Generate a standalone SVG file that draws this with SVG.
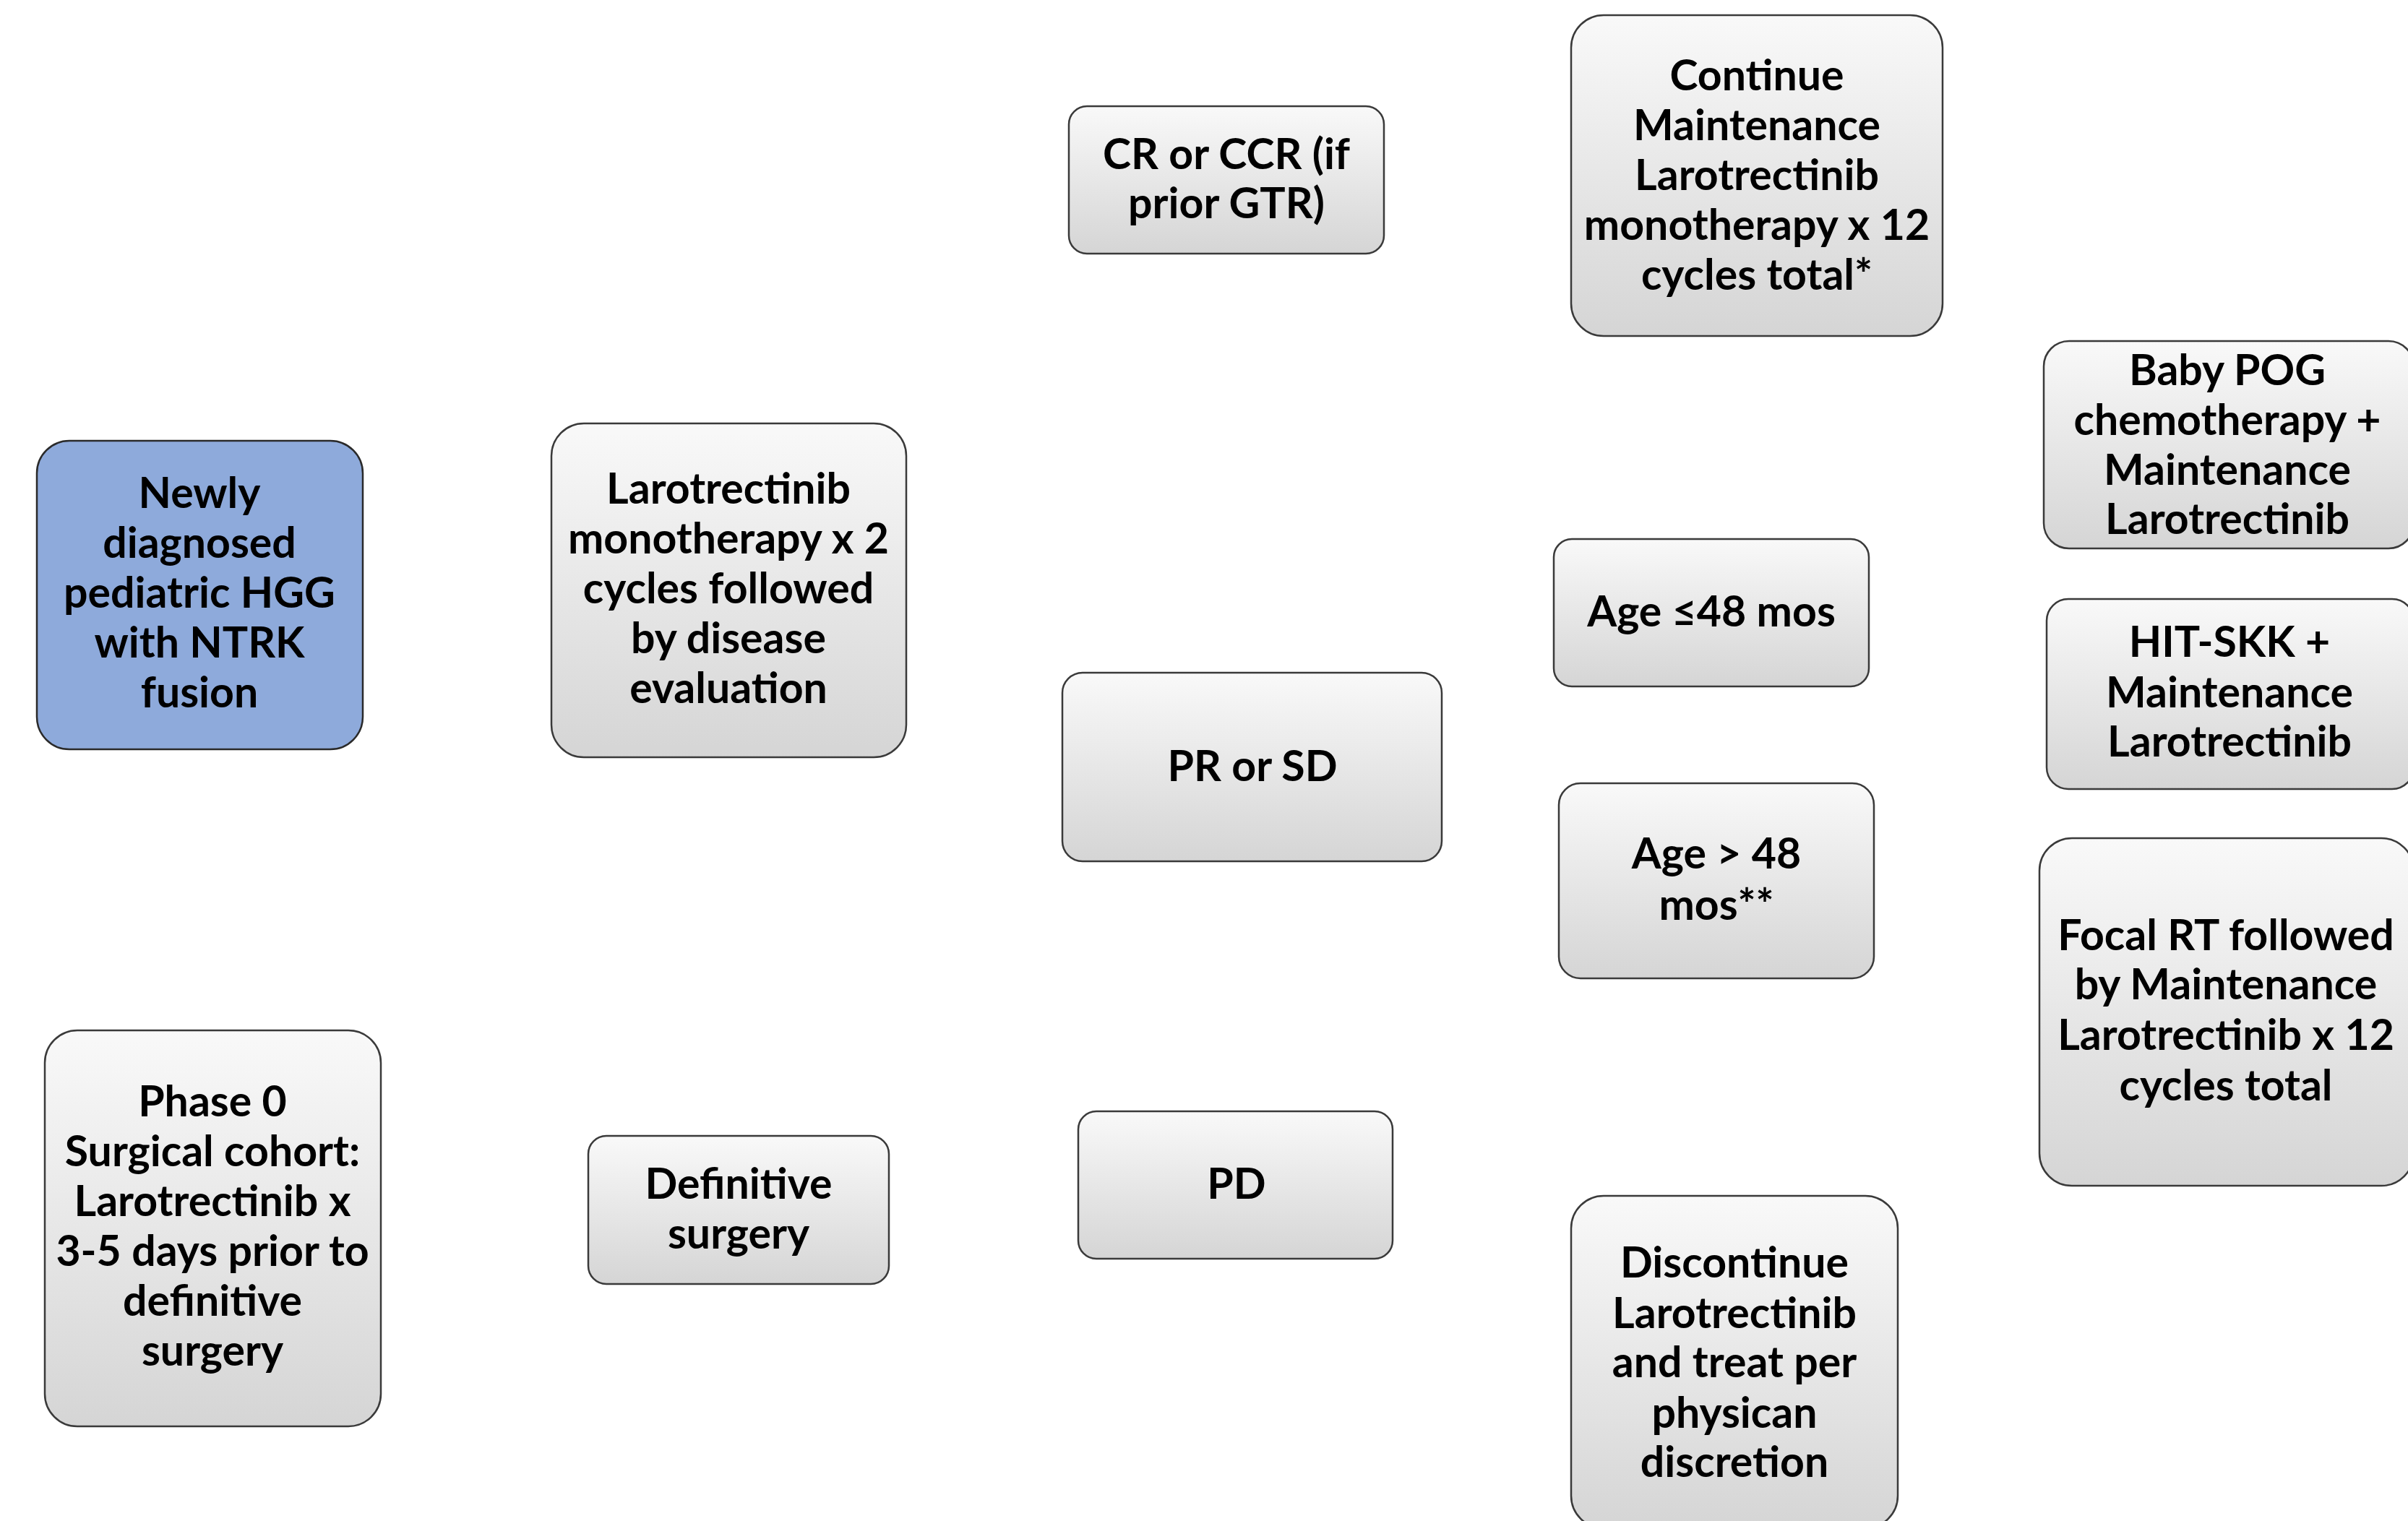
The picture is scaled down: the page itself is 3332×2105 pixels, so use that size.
<svg xmlns="http://www.w3.org/2000/svg" width="3332" height="2105" viewBox="0 0 3332 2105">
<defs>
<linearGradient id="g" x1="0" y1="0" x2="0" y2="1">
<stop offset="0" stop-color="#f9f9f9"/>
<stop offset="1" stop-color="#d5d5d5"/>
</linearGradient>
<style>
.b{fill:url(#g);stroke:#3a3a3a;stroke-width:2.5}
.blue{fill:#8eaadb;stroke:#2a2a2a;stroke-width:2.5}
text{font-family:Lato,"Open Sans","Liberation Sans",sans-serif;font-weight:bold;font-size:59px;fill:#000;text-anchor:middle}
</style>
</defs>
<rect width="3332" height="2105" fill="#fff"/>
<g id="connectors"></g>
<g id="n1"><rect class="blue" x="51" y="610" width="451" height="427" rx="45"/>
<text x="276"><tspan x="276" y="703">Newly</tspan><tspan x="276" y="772">diagnosed</tspan><tspan x="276" y="841">pediatric HGG</tspan><tspan x="276" y="910">with NTRK</tspan><tspan x="276" y="979">fusion</tspan></text></g>
<g id="n2"><rect class="b" x="763" y="586" width="491" height="462" rx="45"/>
<text><tspan x="1008" y="697">Larotrectinib</tspan><tspan x="1008" y="766">monotherapy x 2</tspan><tspan x="1008" y="835">cycles followed</tspan><tspan x="1008" y="904">by disease</tspan><tspan x="1008" y="973">evaluation</tspan></text></g>
<g id="n3"><rect class="b" x="62" y="1426" width="465" height="548" rx="45"/>
<text><tspan x="294" y="1545">Phase 0</tspan><tspan x="294" y="1614">Surgical cohort:</tspan><tspan x="294" y="1683">Larotrectinib x</tspan><tspan x="294" y="1752">3-5 days prior to</tspan><tspan x="294" y="1821">definitive</tspan><tspan x="294" y="1890">surgery</tspan></text></g>
<g id="n4"><rect class="b" x="814" y="1572" width="416" height="205" rx="25"/>
<text><tspan x="1022" y="1659">Definitive</tspan><tspan x="1022" y="1728">surgery</tspan></text></g>
<g id="n5"><rect class="b" x="1479" y="147" width="436" height="204" rx="25"/>
<text><tspan x="1697" y="234">CR or CCR (if</tspan><tspan x="1697" y="302">prior GTR)</tspan></text></g>
<g id="n6"><rect class="b" x="1470" y="931" width="525" height="261" rx="28"/>
<text x="1733" y="1081">PR or SD</text></g>
<g id="n7"><rect class="b" x="1492" y="1538" width="435" height="204" rx="25"/>
<text x="1711" y="1659">PD</text></g>
<g id="n8"><rect class="b" x="2174" y="21" width="514" height="444" rx="45"/>
<text><tspan x="2431" y="125">Continue</tspan><tspan x="2431" y="194">Maintenance</tspan><tspan x="2431" y="263">Larotrectinib</tspan><tspan x="2431" y="332">monotherapy x 12</tspan><tspan x="2431" y="401">cycles total*</tspan></text></g>
<g id="n9"><rect class="b" x="2150" y="746" width="436" height="204" rx="25"/>
<text x="2368" y="867">Age ≤48 mos</text></g>
<g id="n10"><rect class="b" x="2157" y="1084" width="436" height="270" rx="30"/>
<text><tspan x="2375" y="1202">Age &gt; 48</tspan><tspan x="2375" y="1273">mos**</tspan></text></g>
<g id="n11"><rect class="b" x="2174" y="1655" width="452" height="460" rx="45"/>
<text><tspan x="2400" y="1768">Discontinue</tspan><tspan x="2400" y="1838">Larotrectinib</tspan><tspan x="2400" y="1906">and treat per</tspan><tspan x="2400" y="1976">physican</tspan><tspan x="2400" y="2044">discretion</tspan></text></g>
<g id="n12"><rect class="b" x="2828" y="472" width="512" height="287" rx="35"/>
<text><tspan x="3082" y="533">Baby POG</tspan><tspan x="3082" y="602">chemotherapy +</tspan><tspan x="3082" y="671">Maintenance</tspan><tspan x="3082" y="739">Larotrectinib</tspan></text></g>
<g id="n13"><rect class="b" x="2832" y="829" width="508" height="263" rx="30"/>
<text><tspan x="3085" y="909">HIT-SKK +</tspan><tspan x="3085" y="979">Maintenance</tspan><tspan x="3085" y="1047">Larotrectinib</tspan></text></g>
<g id="n14"><rect class="b" x="2822" y="1160" width="518" height="481" rx="45"/>
<text><tspan x="3080" y="1315">Focal RT followed</tspan><tspan x="3080" y="1383">by Maintenance</tspan><tspan x="3080" y="1453">Larotrectinib x 12</tspan><tspan x="3080" y="1523">cycles total</tspan></text></g>
</svg>
